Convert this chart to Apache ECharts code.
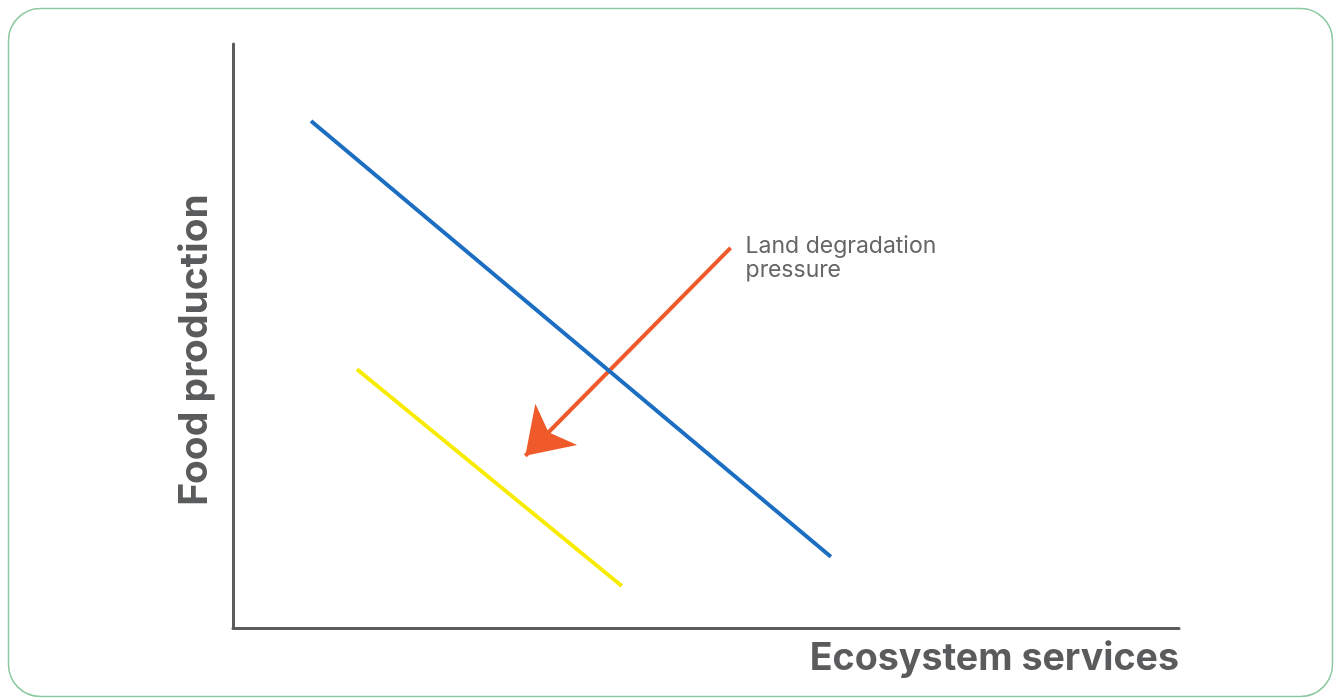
<!DOCTYPE html>
<html><head><meta charset="utf-8">
<script src="https://cdn.jsdelivr.net/npm/echarts@6/dist/echarts.min.js"></script>
<style>html,body{margin:0;padding:0;background:#fff}#c{width:1336px;height:700px}</style>
</head><body><div id="c"></div>
<script>
const xAxisName = 'Ecosystem services';
const yAxisName = 'Food production';
const currentLineX = [8.25, 63.2];
const currentLineY = [86.8, 12.2];
const degradedLineX = [13.1, 41.1];
const degradedLineY = [44.3, 7.2];
const arrowX = [52.6, 30.9];
const arrowY = [65.1, 29.5];
const arrowLabel = 'Land degradation\npressure';

const chart = echarts.init(document.getElementById('c'));
const toPairs = (xs, ys) => xs.map((x, i) => [x, ys[i]]);
chart.setOption({
  animation: false,
  grid: {left: 233, right: 157, top: 44, bottom: 72},
  xAxis: {type: 'value', min: 0, max: 100,
    axisLine: {lineStyle: {color: '#5c5c5e', width: 3}},
    axisTick: {show: false}, axisLabel: {show: false}, splitLine: {show: false},
    name: xAxisName, nameLocation: 'end', nameGap: 0,
    nameTextStyle: {fontFamily: 'Inter', fontWeight: 'bold', fontSize: 37.6, color: '#5a5b5d', align: 'right', verticalAlign: 'top', padding: [12, 0, 0, 0]}
  },
  yAxis: {type: 'value', min: 0, max: 100,
    axisLine: {lineStyle: {color: '#5c5c5e', width: 3}},
    axisTick: {show: false}, axisLabel: {show: false}, splitLine: {show: false},
    name: yAxisName, nameLocation: 'middle', nameGap: 18, nameRotate: 90,
    nameTextStyle: {fontFamily: 'Inter', fontWeight: 'bold', fontSize: 39, color: '#5a5b5d', padding: [0, 0, 0, -28]}
  },
  series: [
    {type: 'line', data: toPairs(currentLineX, currentLineY), symbol: 'none', lineStyle: {color: '#1b6ec2', width: 4}},
    {type: 'line', data: toPairs(degradedLineX, degradedLineY), symbol: 'none', lineStyle: {color: '#f7ec00', width: 4}},
    {type: 'lines', coordinateSystem: 'cartesian2d', symbol: ['none', 'arrow'], symbolSize: 44,
      lineStyle: {color: '#f05a2a', width: 4, opacity: 1},
      label: {show: true, position: 'start', formatter: arrowLabel, color: '#666', fontFamily: 'Inter', fontSize: 23, lineHeight: 24, align: 'left', distance: 0, padding: [0, 0, 0, 15], offset: [0, 10]},
      data: [{coords: toPairs(arrowX, arrowY)}]}
  ],
  graphic: [{type: 'rect', left: 6, top: 6, shape: {width: 1324, height: 688, r: 32}, style: {fill: 'none', stroke: '#8cc9a0', lineWidth: 1.5}, z: -1}]
});
</script></body></html>
